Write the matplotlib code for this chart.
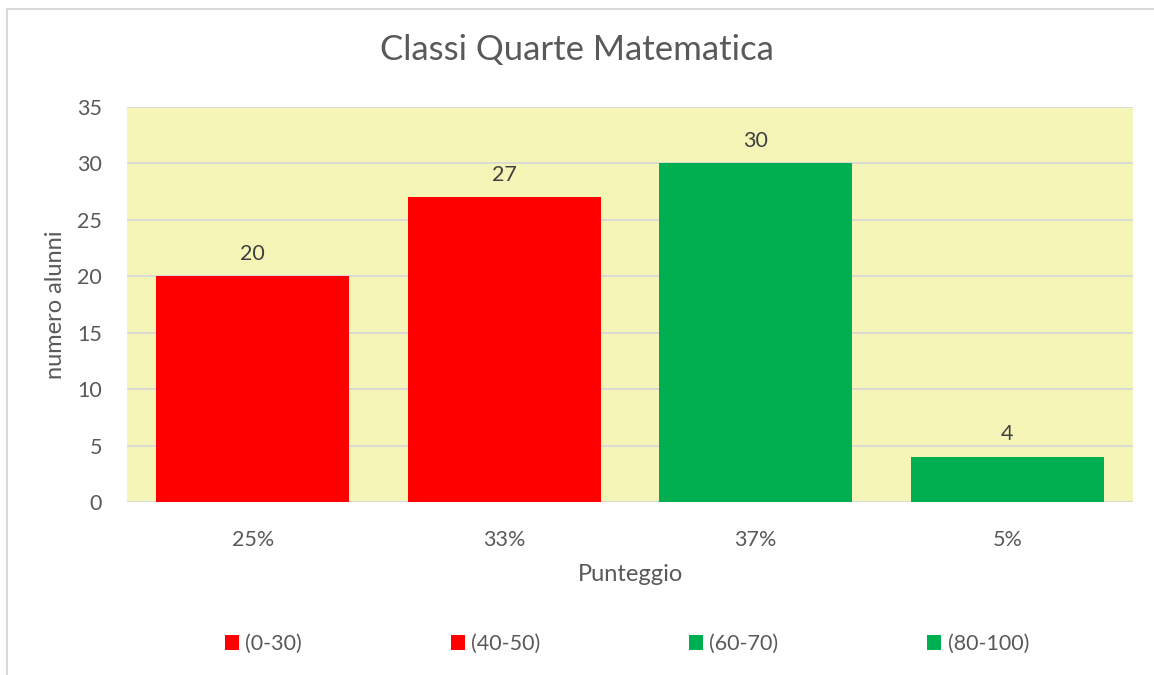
import matplotlib
matplotlib.use('Agg')
import matplotlib.pyplot as plt
from matplotlib.patches import Patch, Rectangle

# data
categories = ['25%', '33%', '37%', '5%']
values = [20, 27, 30, 4]
series_names = ['(0-30)', '(40-50)', '(60-70)', '(80-100)']
bar_colors = ['#FF0000', '#FF0000', '#00B050', '#00B050']

text_color = '#595959'
plt.rcParams['font.family'] = ['Lato', 'DejaVu Sans']

fig = plt.figure(figsize=(11.54, 6.75), dpi=100)
ax = fig.add_axes([127 / 1154, 1 - 502 / 675, (1133 - 127) / 1154, (502 - 107) / 675])
ax.set_facecolor('#F5F5B8')

# outer chart border (left/top visible)
fig.patches.append(Rectangle((7 / 1154, -0.05), 1.2, 1 - 9 / 675 + 0.05,
                             transform=fig.transFigure, fill=False,
                             edgecolor='#D9D9D9', linewidth=1.5))

x = range(len(categories))
bars = ax.bar(x, values, width=0.767, color=bar_colors, zorder=3)
for i, v in enumerate(values):
    ax.text(i, v + 1.1, str(v), ha='center', va='bottom', fontsize=15.5, color='#404040')

ax.set_xlim(-0.5, len(categories) - 0.5)
ax.set_ylim(0, 35)
ax.set_yticks(range(0, 36, 5))
ax.set_xticks(list(x))
ax.set_xticklabels(categories)
ax.grid(axis='y', color='#D9D9D9', linewidth=1.3, zorder=0)
for s in ax.spines.values():
    s.set_visible(False)
ax.tick_params(length=0, labelsize=15.5, labelcolor=text_color)
ax.tick_params(axis='x', pad=20)
ax.tick_params(axis='y', pad=18)

ax.set_xlabel('Punteggio', fontsize=17, color=text_color, labelpad=10)
ax.set_ylabel('numero alunni', fontsize=17, color=text_color, labelpad=8)
fig.text(0.5, 1 - 50 / 675, 'Classi Quarte Matematica', ha='center', va='center',
         fontsize=25, color=text_color)

handles = [Patch(facecolor=c) for c in bar_colors]
fig.legend(handles, series_names, loc='center', bbox_to_anchor=(627 / 1154, 1 - 644 / 675),
           ncol=4, frameon=False, fontsize=15.5, labelcolor=text_color,
           handlelength=0.65, handleheight=0.65, handletextpad=0.3, columnspacing=6.9)

plt.savefig('out.png', dpi=100)
